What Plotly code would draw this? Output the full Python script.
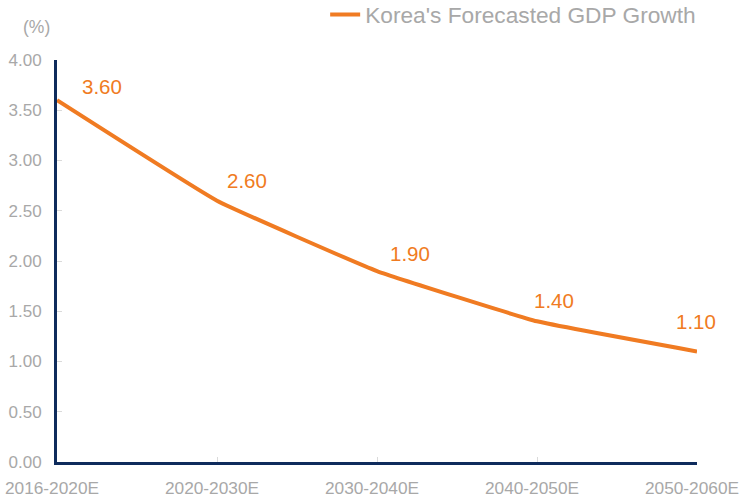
import plotly.graph_objects as go

# Korea's forecasted GDP growth by period (%)
periods = ["2016-2020E", "2020-2030E", "2030-2040E", "2040-2050E", "2050-2060E"]
growth = [3.60, 2.60, 1.90, 1.40, 1.10]
y_ticks = [0.0, 0.5, 1.0, 1.5, 2.0, 2.5, 3.0, 3.5, 4.0]

ORANGE = "#F07B22"
NAVY = "#0E2B5C"
GREY = "#A8A8A8"
TICK = "#DADADA"
FONT = "Liberation Sans, Arial, sans-serif"

# per-label pixel offsets for the value annotations
label_offsets = [(45, 14), (30, 20), (33, 18), (17, 21), (-1, 30)]

fig = go.Figure()
fig.add_trace(go.Scatter(
    x=periods, y=growth, mode="lines",
    name="Korea's Forecasted GDP Growth",
    line=dict(color=ORANGE, width=4, shape="spline", smoothing=0.3),
))

for xv, yv, (dx, dy) in zip(periods, growth, label_offsets):
    fig.add_annotation(
        x=xv, y=yv, text=f"{yv:.2f}", showarrow=False,
        xshift=dx, yshift=dy,
        font=dict(family=FONT, size=20.5, color=ORANGE),
    )

fig.add_annotation(
    xref="paper", yref="paper", x=-0.008, y=1.0, yshift=33,
    text="(%)", showarrow=False, xanchor="right", yanchor="middle",
    font=dict(family=FONT, size=17.5, color=GREY),
)

fig.update_layout(
    width=742, height=503,
    margin=dict(l=57, r=45, t=60, b=41, autoexpand=False),
    paper_bgcolor="white", plot_bgcolor="white",
    showlegend=True,
    legend=dict(
        orientation="h", x=0.419, xanchor="left", y=1.166, yanchor="top",
        yref="paper",
        font=dict(family=FONT, size=22.7, color=GREY),
        bgcolor="rgba(0,0,0,0)", borderwidth=0,
    ),
    xaxis=dict(
        type="category", range=[0, 4], automargin=False,
        showgrid=False, zeroline=False,
        showline=True, linecolor=NAVY, linewidth=3,
        ticks="inside", ticklen=5, tickcolor=TICK, tickwidth=1,
        tickfont=dict(family=FONT, size=17.3, color=GREY),
        ticklabelstandoff=8, ticklabelshift=-5,
    ),
    yaxis=dict(
        range=[0, 4], tickvals=y_ticks, automargin=False,
        ticktext=[f"{v:.2f}" for v in y_ticks],
        showgrid=False, zeroline=False,
        showline=True, linecolor=NAVY, linewidth=3,
        ticks="inside", ticklen=5, tickcolor=TICK, tickwidth=1,
        tickfont=dict(family=FONT, size=17, color=GREY),
        ticklabelstandoff=9,
    ),
)

fig.write_html("out.html")
